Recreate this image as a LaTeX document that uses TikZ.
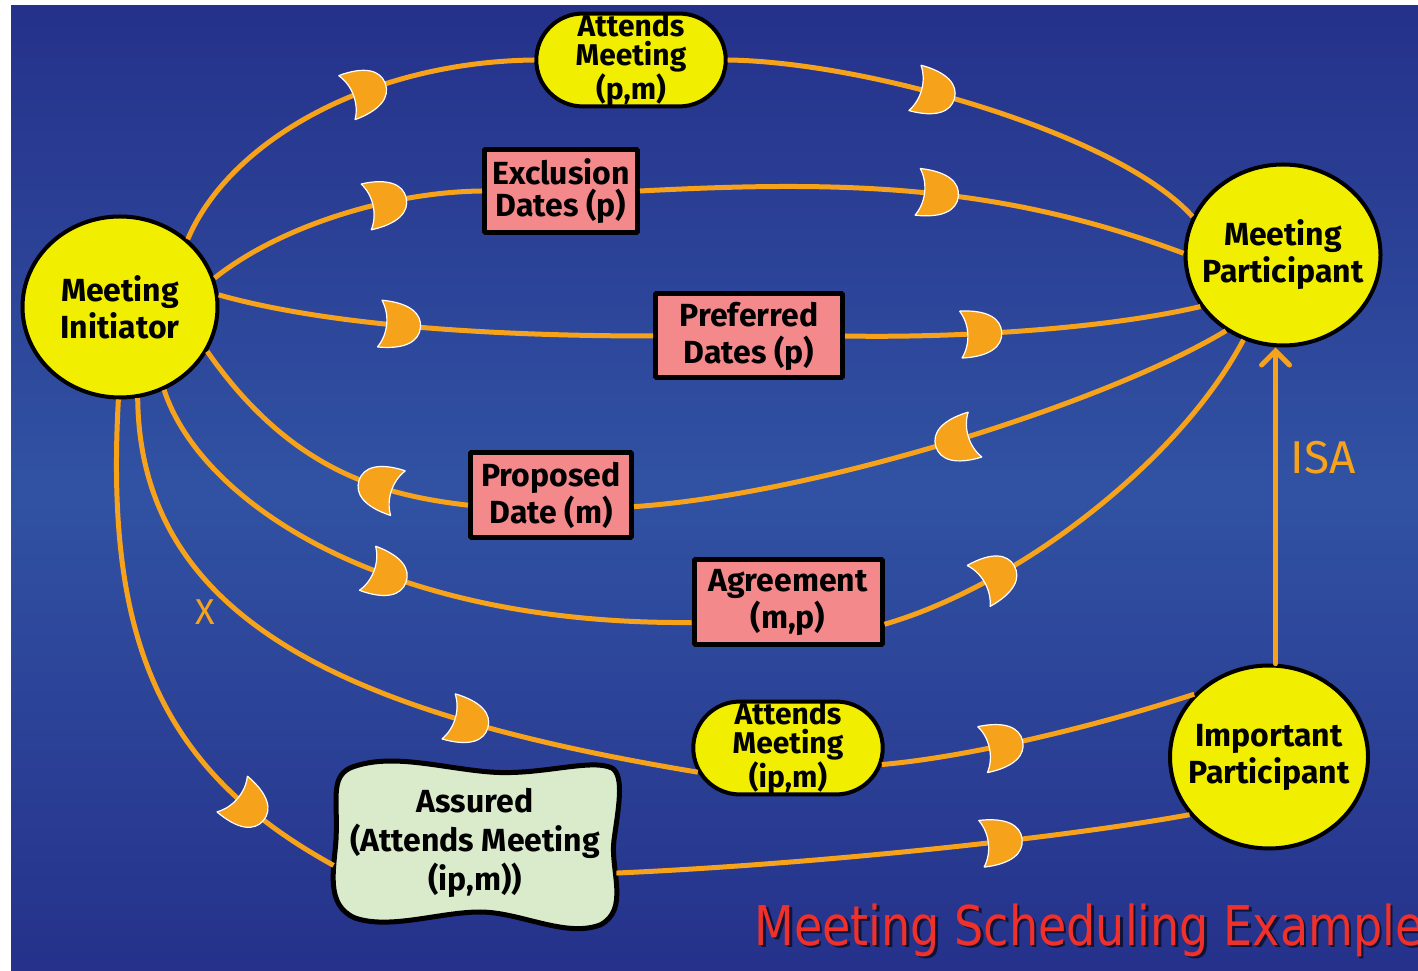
\documentclass[tikz,border=0pt]{standalone}
\usepackage{fontspec}
\setmainfont{Fira Sans}
\newfontfamily\titlefont[FakeStretch=0.84]{DejaVu Sans}
\usetikzlibrary{shapes.geometric,shapes.misc,arrows.meta,decorations.markings}
\definecolor{orangeline}{HTML}{F7A21B}
\definecolor{nodeyellow}{HTML}{F2EE00}
\definecolor{boxpink}{HTML}{F4898B}
\definecolor{assuredgreen}{HTML}{D9EBCB}
\definecolor{titlered}{HTML}{F0302A}
\definecolor{bgtop}{HTML}{25318A}
\definecolor{bgmid}{HTML}{3152A3}
\begin{document}
\begin{tikzpicture}[>=latex,line join=bevel,
  agent/.style={ellipse,draw=black,line width=2bp,fill=nodeyellow,minimum width=97.5bp,minimum height=90.5bp,inner sep=-6bp,align=center,font=\bfseries\fontsize{16bp}{18.5bp}\selectfont},
  databox/.style={rectangle,draw=black,line width=2.5bp,fill=boxpink,inner sep=2bp,align=center,font=\bfseries\fontsize{16bp}{18.5bp}\selectfont},
  roundbox/.style={rounded rectangle,draw=black,line width=2bp,fill=nodeyellow,inner xsep=-3.5bp,inner ysep=0bp,minimum width=93.5bp,minimum height=43bp,align=center,font=\bfseries\fontsize{15bp}{14.5bp}\selectfont},
  flow/.style={draw=orangeline,line width=2.5bp,postaction={decorate,decoration={markings,mark=at position #1 with {\filldraw[fill=orangeline,draw=white,line width=0.6bp] (-10bp,11.75bp) .. controls (4bp,11.75bp) and (10.5bp,7bp) .. (10.5bp,0bp) .. controls (10.5bp,-7bp) and (4bp,-11.75bp) .. (-10bp,-11.75bp) .. controls (-5.3bp,-5bp) and (-5.3bp,5bp) .. (-10bp,11.75bp) -- cycle;}}}},
  isa/.style={draw=orangeline,line width=2.5bp,line cap=round,-{Straight Barb[length=7bp,width=14bp,line cap=round]}},
]
%%
\fill [white] (0bp,0bp) rectangle (709bp,485.5bp);
\shade [top color=bgtop,bottom color=bgtop,middle color=bgmid] (5.5bp,0bp) rectangle (709bp,482.5bp);
\useasboundingbox (0bp,0bp) rectangle (709bp,485.5bp);
\filldraw [fill=assuredgreen,draw=black,line width=2.5bp,line join=round] (175bp,101.5bp) .. controls (195bp,109.5bp) and (220bp,101.5bp) .. (245bp,99.5bp) .. controls (270bp,97.5bp) and (295bp,106.5bp) .. (306bp,101.5bp) .. controls (312.5bp,97.5bp) and (309bp,80.5bp) .. (307bp,65.5bp) .. controls (305bp,50.5bp) and (315bp,30.5bp) .. (300bp,23bp) .. controls (282.5bp,16.5bp) and (260bp,29.5bp) .. (240bp,29.5bp) .. controls (220bp,29.5bp) and (195bp,20.5bp) .. (177.5bp,26.5bp) .. controls (162.5bp,33bp) and (167bp,50.5bp) .. (168bp,65.5bp) .. controls (169bp,85.5bp) and (165bp,96.5bp) .. (175bp,101.5bp) -- cycle;
  \node (node_0) at (60.0bp,332.0bp) [agent] {Meeting\\Initiator};
  \node (node_1) at (641.5bp,358.0bp) [agent] {Meeting\\Participant};
  \node (node_2) at (634.5bp,107.0bp) [agent,minimum width=99bp,minimum height=91.5bp] {Important\\Participant};
  \node (node_3) at (315.5bp,455.5bp) [roundbox] {Attends\\Meeting\\(p,m)};
  \node (node_4) at (280.5bp,390.0bp) [databox,minimum width=76.5bp,minimum height=41.5bp,font=\bfseries\fontsize{16bp}{16bp}\selectfont] {Exclusion\\Dates (p)};
  \node (node_5) at (374.5bp,317.5bp) [databox,minimum width=93.5bp,minimum height=42bp] {Preferred\\Dates (p)};
  \node (node_6) at (275.5bp,238.0bp) [databox,minimum width=80.5bp,minimum height=42.5bp] {Proposed\\Date (m)};
  \node (node_7) at (394.0bp,184.5bp) [databox,minimum width=94bp,minimum height=42.5bp] {Agreement\\(m,p)};
  \node (node_8) at (394.0bp,111.5bp) [roundbox,minimum width=92bp] {Attends\\Meeting\\(ip,m)};
  \node (node_9) at (237.5bp,64.0bp) [rectangle,draw=none,inner sep=0bp,minimum width=141bp,minimum height=82.5bp,align=center,font=\bfseries\fontsize{16bp}{19.5bp}\selectfont] {Assured\\(Attends Meeting\\(ip,m))};
  \node (node_10) at (102.5bp,179.5bp) [text=orangeline,font=\fontsize{18bp}{20bp}\selectfont] {X};
  \node (node_11) at (661.5bp,256.5bp) [text=orangeline,font=\fontsize{23bp}{26bp}\selectfont] {ISA};
  \node (node_12) at (378.3bp,11.8bp) [anchor=base west,inner sep=0bp,text=black,opacity=0.6,font=\titlefont\fontsize{27.4bp}{30bp}\selectfont] {Meeting Scheduling Example};
  \node (node_13) at (377.0bp,13.0bp) [anchor=base west,inner sep=0bp,text=titlered,font=\titlefont\fontsize{27.4bp}{30bp}\selectfont] {Meeting Scheduling Example};
  \draw [flow=0.58] (node_0.45) ..controls (115.0bp,415.5bp) and (185.0bp,454.5bp)  .. (node_3.west);
  \draw [flow=0.42] (node_3.east) ..controls (435.0bp,454.5bp) and (560.0bp,418.0bp)  .. (node_1.157);
  \draw [flow=0.66] (node_0.17) ..controls (140.0bp,372.5bp) and (195.0bp,389.5bp)  .. (node_4.west);
  \draw [flow=0.54] (node_4.east) ..controls (425.0bp,395.5bp) and (500.0bp,393.0bp)  .. (node_1.179);
  \draw [flow=0.42] (node_0.7) ..controls (145.0bp,328.0bp) and (210.0bp,317.5bp)  .. (node_5.west);
  \draw [flow=0.38] (node_5.east) ..controls (475.0bp,316.5bp) and (550.0bp,320.5bp)  .. (node_1.212);
  \draw [flow=0.47] (node_1.233) ..controls (555.0bp,285.0bp) and (410.0bp,238.5bp)  .. (node_6.-8);
  \draw [flow=0.29] (node_6.187) ..controls (190.0bp,238.0bp) and (145.0bp,250.5bp)  .. (node_0.-27);
  \draw [flow=0.26] (node_7.-13) ..controls (510.0bp,193.0bp) and (590.0bp,255.5bp)  .. (node_1.245);
  \draw [flow=0.49] (node_0.-62) ..controls (100.0bp,235.5bp) and (190.0bp,173.0bp)  .. (node_7.192);
  \draw [flow=0.68] (node_0.-79) ..controls (70.0bp,172.5bp) and (180.0bp,127.5bp)  .. (node_8.195);
  \draw [flow=0.38] (node_8.-10) ..controls (485.0bp,107.0bp) and (550.0bp,123.0bp)  .. (node_2.140);
  \draw [flow=0.81] (node_0.-91) ..controls (52.5bp,165.5bp) and (80.0bp,100.5bp)  .. (node_9.189);
  \draw [flow=0.67] (node_9.-12) ..controls (400.0bp,53.0bp) and (525.0bp,65.5bp)  .. (node_2.216);
  \draw [isa] (node_2.86) -- (node_2.86 |- node_1.south);
%
\end{tikzpicture}
\end{document}
